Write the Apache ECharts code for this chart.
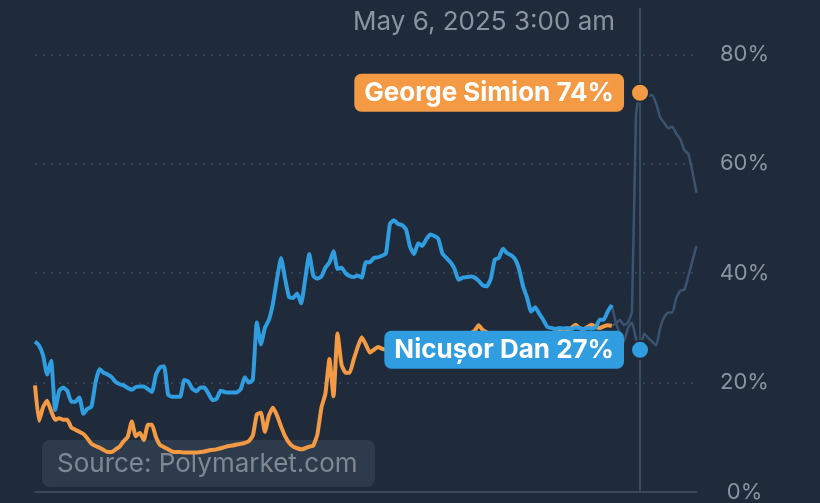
<!DOCTYPE html>
<html><head><meta charset="utf-8">
<script src="https://cdn.jsdelivr.net/npm/echarts@6/dist/echarts.min.js"></script>
<style>html,body{margin:0;padding:0;background:#1f2b3a}#c{width:820px;height:503px}</style>
</head><body><div id="c"></div>
<script>
// Sample index along the time axis (uniform steps)
const hoverTime = 'May 6, 2025 3:00 am';
const hoverIndex = 150;
const dimFrom = 143;
const yTicks = [0, 20, 40, 60, 80];

const danValues = [
27.5,26.8,25,21.5,24,15,18.5,19.1,18.5,16.5,
16.5,17.3,14.3,15.2,15.6,20,22.5,21.8,21.5,21,
20.1,19.7,19.5,19,18.7,19.2,19.3,19.3,18.8,18.3,
21.5,22.8,23,17.8,17.4,17.4,17.4,20.5,20.2,18.9,
18.4,19.1,19.1,18,16.8,17,18.5,18.3,18.2,18.2,
18.2,18.8,21,20,20.5,31,27,30,31.5,34.5,
39,42.8,39,35.6,35.5,36.3,34.5,39,43.5,39.5,
39,39.4,41,42,44,40.8,41,40,39.5,39.3,
39.6,39.2,42,42,42.8,42.9,43.2,43.6,49,49.7,
49,48.8,48,44.8,43.5,45.5,45,46.2,47.1,46.8,
46.3,43.6,42.8,42,40.8,38.8,39.2,39.3,39.4,39.2,
38.6,37.8,37.6,39,42.5,42.8,44.5,43.7,43.3,42.6,
40.8,37.6,35.5,33,33.8,32.6,31.5,30.2,30,29.8,
30,29.9,30,29.8,30.1,30,29.8,30,29.9,30.1,
31.5,31.5,33,34.2,31,29,27.5,30,31,28,
26,29,28.2,27.5,26.8,30,32,32.8,32.8,35.5,
36.8,37,39.5,42.3,45
];

const simionValues = [
19.5,13,15.5,16.7,14.8,13.2,13.5,13.2,13.2,11.8,
11.4,11,10.6,9.8,8.8,8.4,8.1,7.7,7.3,7.3,
7.8,8.3,9.3,10.1,12.9,10.2,10.8,9.5,12.3,12.3,
10,8.6,8.2,7.8,7.4,7.3,7.3,7.2,7.2,7.2,
7.2,7.3,7.4,7.6,7.7,7.8,8,8.2,8.4,8.5,
8.7,8.8,9,9.3,10.3,14.2,14.5,11,14,15.4,
14,12,10.2,9,8.3,8,7.8,8,8.3,8.5,
10.5,15.4,18,24.3,17.5,29,23.3,21.8,21.8,24.2,
26.5,28.3,27,25.5,26,26.5,26.2,26,24.5,24.2,
24.5,25,25.3,25,25.8,26.2,26,26.5,27,26.8,
27.3,27.5,27.8,27.4,28,28.3,28,28.6,29,29.5,
30.5,29.6,29.2,29,28.6,28.2,28,27.8,27.5,27.2,
27.6,28,27.8,28.4,28.8,29,28.8,28.6,29,29.2,
29.5,29.3,29.6,30,30.6,30,29.8,30.2,30.6,30.2,
30,30.3,30.5,30.4,30.8,31.5,30.5,31,33,69,
73,72,72.4,72.6,71,68.5,67.5,66.5,66.8,65.5,
64.5,62.5,61.8,58.5,54.7
];

const danLabel = 'Nicușor Dan 27%';
const simionLabel = 'George Simion 74%';

const categories = danValues.map((_, i) => String(i));
const bright = arr => arr.map((v, i) => i <= dimFrom ? v : null);
const dim = arr => arr.map((v, i) => i >= dimFrom ? v : null);

const BLUE = '#2f9de0', ORANGE = '#f49a44', DIM = '#3a5470', BG = '#1f2b3a';
const FONT = 'Inter, "Liberation Sans", sans-serif';

const chart = echarts.init(document.getElementById('c'));
chart.setOption({
  backgroundColor: BG,
  animation: false,
  title: {
    text: hoverTime, right: 205, top: 9, padding: 0,
    textStyle: { color: '#8b95a1', fontSize: 26, fontWeight: 'normal', fontFamily: FONT }
  },
  grid: { left: 35, right: 123.5, top: 8, bottom: 10.5 },
  xAxis: {
    type: 'category', data: categories, boundaryGap: false,
    axisLine: { show: true, lineStyle: { color: '#3a4857', width: 2 } },
    axisTick: { show: false }, axisLabel: { show: false }, splitLine: { show: false }
  },
  yAxis: {
    type: 'value', position: 'right', min: 0, max: 88.5, interval: 20,
    axisLine: { show: false }, axisTick: { show: false },
    axisLabel: {
      color: '#8b95a1', fontSize: 22, fontFamily: FONT, align: 'center', margin: 48,
      showMaxLabel: false,
      formatter: v => yTicks.includes(v) ? v + '%' : ''
    },
    splitLine: { show: true, showMinLine: false, showMaxLine: false,
      lineStyle: { color: '#3b4b5e', type: [2, 6], width: 1.5 } }
  },
  series: [
    { type: 'line', data: dim(danValues), symbol: 'none', smooth: 0.15, z: 2,
      lineStyle: { color: DIM, width: 2.5 },
      markLine: { silent: true, symbol: 'none', label: { show: false },
        lineStyle: { color: '#3a4b5d', width: 2, type: 'solid' },
        data: [{ xAxis: categories[hoverIndex] }] } },
    { type: 'line', data: dim(simionValues), symbol: 'none', smooth: 0.15, z: 2,
      lineStyle: { color: DIM, width: 2.5 } },
    { type: 'line', data: bright(simionValues), symbol: 'none', smooth: 0.15, z: 3,
      lineStyle: { color: ORANGE, width: 4, join: 'round' } },
    { type: 'line', data: bright(danValues), symbol: 'none', smooth: 0.15, z: 4,
      lineStyle: { color: BLUE, width: 4, join: 'round' } },
    { type: 'scatter', z: 10, symbolSize: 18,
      itemStyle: { color: ORANGE, borderColor: BG, borderWidth: 2, opacity: 1 },
      label: { show: true, position: 'left', distance: 6, formatter: simionLabel,
        color: '#fff', fontSize: 26, fontWeight: 'bold', fontFamily: FONT, lineHeight: 26,
        backgroundColor: ORANGE, borderRadius: 7, padding: [6, 10, 6, 10] },
      data: [[categories[hoverIndex], simionValues[hoverIndex]]] },
    { type: 'scatter', z: 10, symbolSize: 18,
      itemStyle: { color: BLUE, borderColor: BG, borderWidth: 2, opacity: 1 },
      label: { show: true, position: 'left', distance: 6, formatter: danLabel,
        color: '#fff', fontSize: 26, fontWeight: 'bold', fontFamily: FONT, lineHeight: 26,
        backgroundColor: BLUE, borderRadius: 7, padding: [6, 10, 6, 10] },
      data: [[categories[hoverIndex], danValues[hoverIndex]]] }
  ],
  graphic: [{
    type: 'group', left: 42, top: 440, z: 100,
    children: [
      { type: 'rect', shape: { x: 0, y: 0, width: 333, height: 47, r: 8 },
        style: { fill: 'rgba(50,64,80,0.82)' } },
      { type: 'text', x: 15, y: 24,
        style: { text: 'Source: Polymarket.com', fill: '#7f8994', fontSize: 26,
          fontFamily: FONT, verticalAlign: 'middle' } }
    ]
  }]
});
</script></body></html>
